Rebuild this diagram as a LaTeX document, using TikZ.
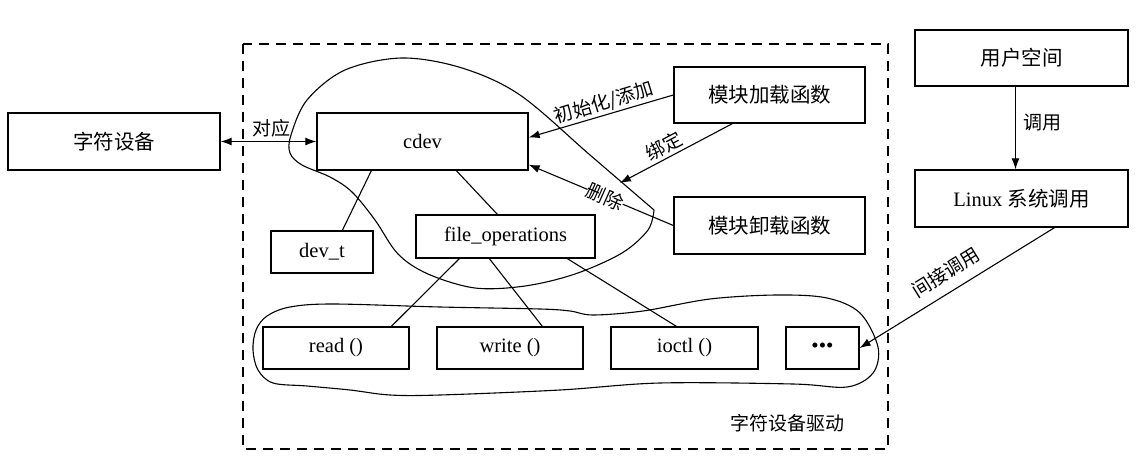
\documentclass[tikz,border=0pt]{standalone}
\usepackage{fontspec}
\setmainfont{Liberation Serif}
\newfontfamily\cjk{Noto Sans CJK SC}
\usetikzlibrary{arrows.meta,calc}
\tikzset{
  box/.style={draw, line width=1.3pt, font=\fontsize{20.5}{24}\selectfont},
  conn/.style={line width=1.1pt},
  arr/.style={line width=1.1pt, -{Latex[length=11pt,width=8pt]}},
  lbl/.style={font=\fontsize{19}{22}\selectfont\cjk, inner sep=1pt},
  blob/.style={line width=1.1pt},
}
\begin{document}
\begin{tikzpicture}[x=1pt,y=-1pt]
\useasboundingbox (0,0) rectangle (1146,473);
% dashed driver frame
\draw[line width=1.8pt, dash pattern=on 10pt off 7pt] (243,44) rectangle (888,449);
\node[lbl, anchor=center] (drv) at (787,423) {字符设备驱动};

% boxes
\node[box, minimum width=212pt, minimum height=57pt] (cdevice) at (114,141.5) {\cjk 字符设备};
\node[box, minimum width=211pt, minimum height=57pt] (cdev) at (422.5,141.5) {cdev};
\node[box, minimum width=102pt, minimum height=42pt] (devt) at (322,252) {dev\_t};
\node[box, minimum width=179pt, minimum height=43pt] (fops) at (505.5,236.5) {file\_operations};
\node[box, minimum width=191pt, minimum height=56pt] (load) at (769.5,95) {\cjk 模块加载函数};
\node[box, minimum width=191pt, minimum height=57pt] (unload) at (769.5,225.5) {\cjk 模块卸载函数};
\node[box, minimum width=213pt, minimum height=56pt] (user) at (1021.5,58) {\cjk 用户空间};
\node[box, minimum width=213pt, minimum height=57pt] (sys) at (1021.5,198.5) {Linux {\cjk 系统调用}};
\node[box, minimum width=146pt, minimum height=42pt] (read) at (336,348) {read ()};
\node[box, minimum width=146pt, minimum height=42pt] (write) at (510,348) {write ()};
\node[box, minimum width=147pt, minimum height=42pt] (ioctl) at (684.5,348) {ioctl ()};
\node[box, minimum width=73pt, minimum height=42pt] (more) at (822.5,348) {\fontsize{21}{24}\selectfont\textbullet\textbullet\textbullet};

% upper blob
\draw[blob] plot[smooth, tension=0.55] coordinates {(654,210) (590,155) (520,95) (462,68) (402,58) (345,70) (307,100) (291,135) (290,153) (302,165) (330,177) (352,192) (375,220) (398,254) (428,274) (475,288) (525,286) (575,274) (622,253) (648,230) (654,210)};
% lower blob
\draw[blob] plot[smooth cycle, tension=0.55] coordinates {(253,350) (256,330) (267,316) (290,307) (333,304) (440,307) (540,309) (570,311) (593,315) (643,311) (710,299) (777,295) (827,298) (860,313) (878,347) (873,373) (847,387) (793,384) (660,383) (560,390) (440,395) (390,395) (350,390) (307,386) (273,383) (258,370)};

% tree lines
\draw[conn] ($(cdev.south west)+(55,0)$) -- ($(devt.north west)+(72,0)$);
\draw[conn] ($(cdev.south west)+(140,0)$) -- ($(fops.north west)+(82,0)$);
\draw[conn] ($(fops.south west)+(44,0)$) -- ($(read.north west)+(129,0)$);
\draw[conn] ($(fops.south west)+(74,0)$) -- ($(write.north west)+(106,0)$);
\draw[conn] ($(fops.south west)+(152,0)$) -- ($(ioctl.north west)+(66,0)$);

% correspondence
\draw[conn, {Latex[length=11pt,width=8pt]}-{Latex[length=11pt,width=8pt]}] (cdevice.east) -- (cdev.west);
\node[lbl] (l1) at (271,128) {对应};

% module functions
\draw[arr] (load.west) -- ($(cdev.east)+(0,-4)$);
\node[lbl, rotate=17] (l2) at (604,103) {初始化/添加};
\coordinate (bindpt) at (620,183);
\draw[arr] ($(load.south west)+(59,0)$) -- (bindpt);
\node[lbl, rotate=28] (l3) at (664,146) {绑定};
\draw[arr] (unload.west) -- ($(cdev.south east)+(0,-6)$);
\node[lbl, rotate=-24, fill=white, inner sep=0pt] (l4) at (605,197) {删除};

% user side
\draw[arr] ($(user.south)+(-6,0)$) -- ($(sys.north)+(-6,0)$);
\node[lbl] (l5) at (1042,123) {调用};
\draw[arr] ($(sys.south)+(33,0)$) -- (more.east);
\node[lbl, rotate=32] (l6) at (946,272) {间接调用};
\end{tikzpicture}
\end{document}
